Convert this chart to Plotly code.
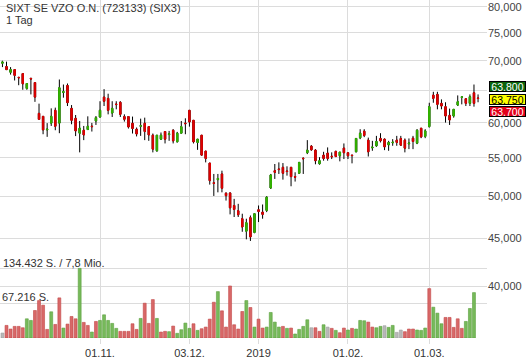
import plotly.graph_objects as go
import pandas as pd

# ---------------- data ----------------
title_text = "SIXT SE VZO O.N. (723133) (SIX3)"
period_text = "1 Tag"

holidays = ["2018-12-24", "2018-12-25", "2018-12-26", "2018-12-31", "2019-01-01"]
dates = [d.strftime("%Y-%m-%d") for d in pd.bdate_range("2018-09-28", "2019-03-19")
         if d.strftime("%Y-%m-%d") not in holidays]

opens = [69560, 69000, 68020, 68470, 67180, 67800, 65340, 67000, 66300, 61420,
         60970, 58950, 59950, 61890, 59950, 64700, 65820, 62190, 60670, 58470,
         58900, 59000, 59500, 60270, 60870, 63950, 63750, 61470, 62870, 63140,
         60930, 60930, 59930, 59050, 59480, 59930, 59430, 58180, 55970, 57610,
         58710, 58270, 58900, 57230, 58470, 59950, 61890, 60370, 57140, 58180,
         55930, 54290, 51700, 52100, 52840, 50370, 50400, 48860, 48220, 47280,
         45840, 47400, 45700, 48340, 48060, 48260, 51030, 53270, 53500, 53720,
         53230, 53720, 52500, 52930, 54950, 55700, 56620, 56060, 54200, 55370,
         55650, 55220, 55890, 55280, 56340, 55700, 55370, 55830, 57800, 58760,
         57470, 56380, 56670, 57710, 57610, 56800, 57090, 57470, 57710, 57470,
         56950, 57750, 57040, 59200, 58000, 59430, 64270, 64380, 62970, 62450,
         61120, 61020, 62700, 63900, 63700, 62970, 64640, 63800]
highs = [70000, 69840, 68900, 68470, 67200, 67800, 66150, 67100, 66300, 62920,
         60970, 59950, 62190, 62300, 66810, 65980, 66150, 62700, 61170, 60270,
         59530, 60970, 59980, 61020, 63300, 65230, 64490, 63300, 63300, 63300,
         61270, 61020, 60930, 59300, 60620, 60770, 59430, 58420, 58180, 58570,
         58710, 58800, 59050, 58660, 60270, 60670, 61890, 60370, 57610, 58180,
         55930, 54290, 52840, 52840, 53270, 50480, 50480, 49670, 49060, 47870,
         47280, 47660, 47950, 48860, 48980, 50000, 52840, 54160, 54380, 54290,
         53850, 53720, 53060, 54380, 55050, 57470, 56760, 56200, 55090, 55830,
         56440, 55750, 55970, 55790, 57000, 55700, 55420, 57710, 59050, 59050,
         57830, 57370, 58080, 58470, 57710, 57370, 57610, 58080, 58080, 57710,
         57710, 58080, 59050, 59200, 59050, 63060, 64800, 64800, 63590, 63140,
         62150, 62040, 64220, 64100, 63700, 64380, 65980, 64380]
lows = [68900, 68400, 67630, 66650, 65870, 65130, 65130, 64380, 63200, 60520,
        58320, 57940, 59530, 58900, 58470, 63860, 62550, 59780, 58050, 55750,
        57470, 58950, 58710, 59680, 60770, 62550, 61270, 60870, 62040, 60870,
        60180, 59150, 58420, 58000, 58080, 57470, 57370, 55750, 55830, 57510,
        57000, 57370, 57000, 57140, 58470, 58320, 59430, 57000, 56100, 55280,
        54380, 51460, 50030, 50480, 50480, 49460, 47790, 47480, 47480, 45770,
        44920, 44740, 45600, 46890, 47280, 48060, 50910, 52190, 52840, 52100,
        52620, 51250, 51850, 52880, 52840, 55510, 55970, 54120, 54070, 54610,
        54610, 54830, 55090, 54520, 54830, 54830, 54250, 55750, 57610, 57900,
        55180, 55970, 56520, 57140, 56060, 55970, 56670, 56670, 56670, 55750,
        56200, 56200, 56900, 57750, 57750, 59300, 63060, 62040, 62040, 60030,
        59680, 60770, 62550, 62810, 62550, 62550, 62450, 63140]
closes = [69780, 68470, 68470, 67500, 67100, 66100, 66150, 66900, 63950, 60520,
          58950, 59050, 60970, 59480, 65450, 64820, 63080, 60370, 58800, 59200,
          58220, 59480, 59430, 60770, 61890, 63300, 61890, 62190, 62780, 61270,
          60520, 59380, 59150, 58360, 59570, 58710, 58220, 56200, 58180, 58180,
          57610, 58370, 57370, 58470, 59430, 59870, 60120, 57230, 57610, 55370,
          54910, 51970, 51600, 52250, 51000, 50070, 48580, 48380, 47750, 46320,
          46810, 45190, 47870, 48140, 47790, 49880, 52710, 53050, 53420, 52930,
          53160, 52490, 52420, 54380, 54880, 56060, 56100, 54610, 54610, 54910,
          54910, 55150, 55180, 55790, 55700, 55280, 55310, 57710, 58470, 58140,
          55830, 56480, 57280, 57370, 56520, 57140, 57180, 57140, 56760, 56340,
          57040, 57280, 58900, 57940, 58800, 62450, 63750, 62810, 62550, 61020,
          60420, 62040, 63230, 63990, 62970, 64010, 62970, 63750]

volumes = [9600, 24300, 17300, 22400, 22400, 19800, 37100, 33900, 53100, 72300,
           63400, 16600, 50600, 26200, 77500, 19200, 26900, 41600, 37100, 134432,
           30100, 24300, 11500, 32000, 33900, 44800, 33900, 28200, 18600, 12800,
           12800, 12800, 27500, 16600, 37800, 67200, 28200, 74200, 37800, 11500,
           12800, 12200, 23000, 9000, 16000, 28800, 18600, 27500, 14700, 17900,
           21100, 36500, 69100, 89600, 52500, 21100, 100500, 25600, 17300, 51200,
           72300, 58900, 21100, 36500, 19200, 21100, 49300, 30700, 21100, 22400,
           18600, 19200, 7700, 16600, 22400, 35200, 19800, 19800, 12800, 25600,
           21100, 18600, 14700, 10200, 19200, 15400, 18600, 17300, 33900, 33300,
           30700, 21100, 19800, 22400, 23700, 20500, 24300, 10900, 15400, 12200,
           17300, 17300, 15400, 14700, 19200, 95400, 59500, 48000, 27500, 39700,
           39700, 20500, 37100, 18600, 32000, 57000, 87700, None]
# u = up vs previous close, d = down, n = unchanged
volume_dir = list("nddddduudddduddudddudduduuuuudddddudddudduduuuudu"
                  "dddduddddddududduuuududuuuunddundudduduuuddu"
                  "unuunnddduuuduuuddddduuudud") + ["n"]

price_ticks = [40000, 45000, 50000, 55000, 60000, 65000, 70000, 75000, 80000]
# the 65,000 label is hidden behind the price badges in the original
price_tick_text = ["40,000", "45,000", "50,000", "55,000", "60,000", "", "70,000", "75,000", "80,000"]
vol_ticks = [67216, 134432]
vol_labels = ["67.216 S.", "134.432 S. / 7,8 Mio."]
date_ticks = ["2018-11-01", "2018-12-03", "2019-01-02", "2019-02-01", "2019-03-01"]
date_tick_text = ["01.11.", "03.12.", "2019", "01.02.", "01.03."]
badges = [("63,800", "#0b640b", "white"), ("63,750", "#ffff00", "black"),
          ("63,700", "#e2001a", "white")]

# ---------------- styling ----------------
RED = "#e00000"
GREEN = "#33b300"
GRID = "#dcdcdc"
FONT = "Liberation Sans, Arial, sans-serif"
vol_fill = {"u": "rgba(112,182,82,0.95)", "d": "rgba(214,96,96,0.95)", "n": "rgba(180,180,180,0.95)"}
vol_line = {"u": "#5aa03c", "d": "#c24848", "n": "#a0a0a0"}

W, H = 530, 359
ML, MR, MT, MB = 0, 43, 0, 19
PW, PH = W - ML - MR, H - MT - MB

body_hi = [max(o, c) for o, c in zip(opens, closes)]
body_lo = [min(o, c) for o, c in zip(opens, closes)]

fig = go.Figure()

fig.add_trace(go.Bar(
    x=dates, y=volumes, yaxis="y2", width=0.72,
    marker=dict(color=[vol_fill[d] for d in volume_dir],
                line=dict(color=[vol_line[d] for d in volume_dir], width=0.6)),
    hoverinfo="skip", showlegend=False))

# wicks (black)
fig.add_trace(go.Candlestick(
    x=dates, open=opens, high=highs, low=lows, close=closes,
    increasing=dict(line=dict(color="black", width=1), fillcolor="black"),
    decreasing=dict(line=dict(color="black", width=1), fillcolor="black"),
    whiskerwidth=0, hoverinfo="skip", showlegend=False))
# coloured bodies
fig.add_trace(go.Candlestick(
    x=dates, open=opens, high=body_hi, low=body_lo, close=closes,
    increasing=dict(line=dict(color=GREEN, width=1), fillcolor=GREEN),
    decreasing=dict(line=dict(color=RED, width=1), fillcolor=RED),
    whiskerwidth=0, hoverinfo="skip", showlegend=False))

spacing_px = 4.065
x0 = -2.44 / spacing_px
x1 = x0 + PW / spacing_px

annotations = [
    dict(text=title_text, x=4 / PW, y=1 - 8 / PH, xanchor="left", yanchor="middle"),
    dict(text=period_text, x=4 / PW, y=1 - 20 / PH, xanchor="left", yanchor="middle"),
    dict(text=vol_labels[1], x=1 / PW, y=1 - 265 / PH, xanchor="left", yanchor="middle"),
    dict(text=vol_labels[0], x=0 / PW, y=1 - 299 / PH, xanchor="left", yanchor="middle"),
]
for a in annotations:
    a.update(xref="paper", yref="paper", showarrow=False,
             font=dict(family=FONT, size=11, color="#333333"))

badge_centers = [87.4, 99.8, 112.2]
for (txt, bg, fg), yc in zip(badges, badge_centers):
    annotations.append(dict(
        text=txt, xref="paper", yref="paper", x=507 / PW, y=1 - yc / PH,
        xanchor="center", yanchor="middle", showarrow=False,
        font=dict(family=FONT, size=10.5, color=fg),
        bgcolor=bg, bordercolor="black", borderwidth=1, borderpad=0,
        width=35, height=9))

fig.update_layout(
    width=W, height=H,
    margin=dict(l=ML, r=MR, t=MT, b=MB, pad=0),
    paper_bgcolor="white", plot_bgcolor="white",
    showlegend=False, boxgap=0.5, bargap=0.25,
    hovermode=False,
    font=dict(family=FONT, size=11, color="#333333"),
    xaxis=dict(type="category", range=[x0, x1], rangeslider=dict(visible=False),
               tickmode="array", tickvals=date_ticks, ticktext=date_tick_text,
               showgrid=True, gridcolor=GRID, gridwidth=1,
               ticks="outside", ticklen=5, tickcolor=GRID, tickwidth=1,
               showline=False, zeroline=False,
               tickfont=dict(family=FONT, size=11, color="#333333")),
    yaxis=dict(type="log", side="right", range=[4.5460, 4.9106],
               tickmode="array", tickvals=price_ticks, ticktext=price_tick_text,
               showgrid=True, gridcolor=GRID, gridwidth=1,
               ticks="", showline=False, zeroline=False,
               tickfont=dict(family=FONT, size=11, color="#444444")),
    yaxis2=dict(overlaying="y", side="left", range=[0, 134432 * PH / 70],
                tickmode="array", tickvals=vol_ticks, showticklabels=False,
                showgrid=True, gridcolor=GRID, gridwidth=1,
                ticks="", showline=False, zeroline=False),
    annotations=annotations,
)

fig.write_html("out.html", config={"displayModeBar": False},
               post_script="document.body.style.margin='0px';document.body.style.overflow='hidden';")
